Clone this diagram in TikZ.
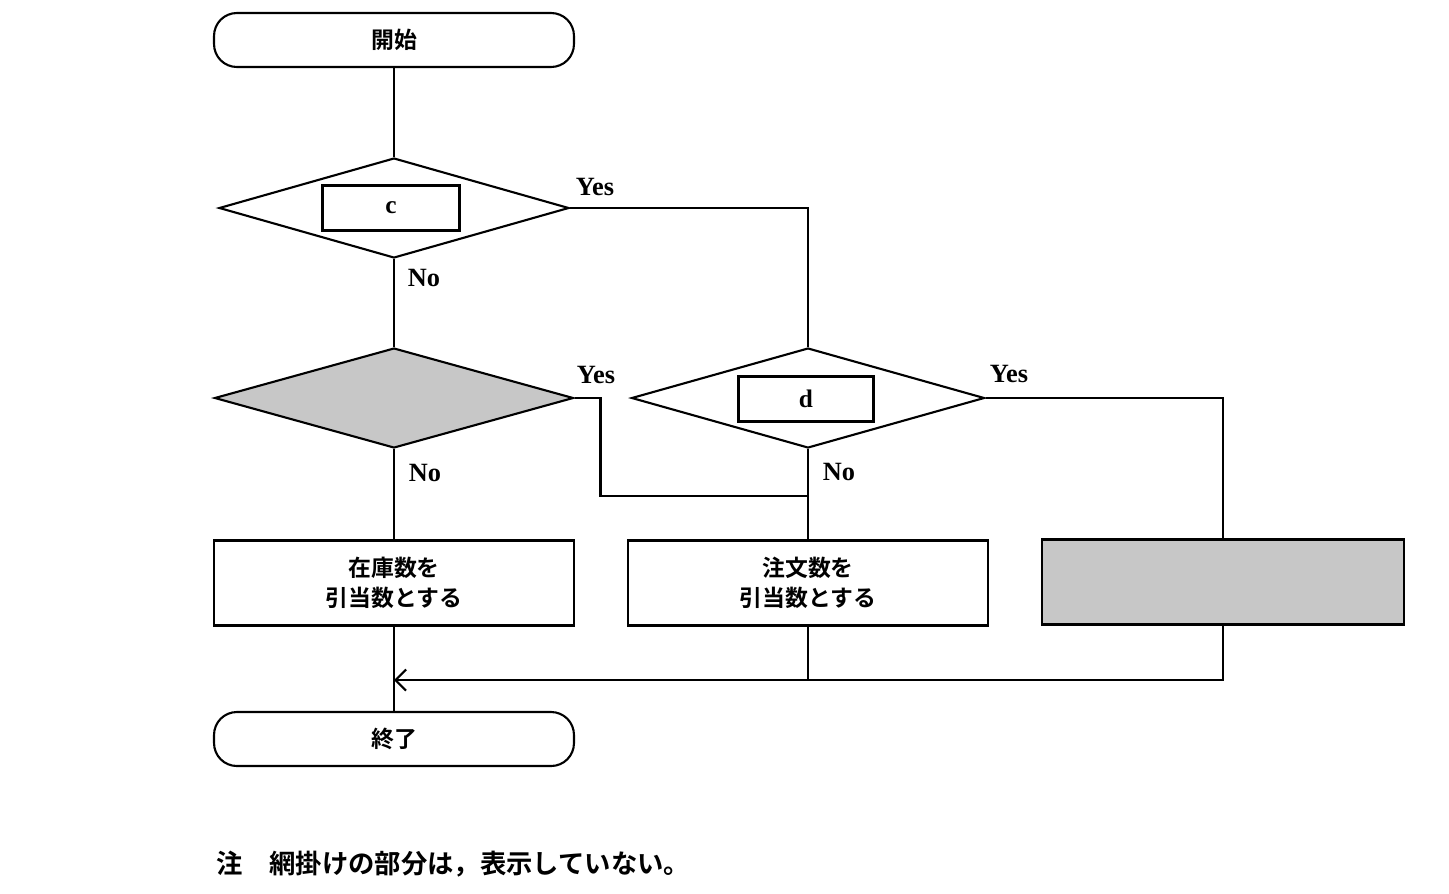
\documentclass[tikz,border=0pt]{standalone}
\usepackage{fontspec}
\setmainfont{Liberation Serif}
\newfontfamily\jfont{Noto Sans CJK JP}[BoldFont={* Bold}]
\usetikzlibrary{shapes.geometric}
\usetikzlibrary{positioning}
\usetikzlibrary{arrows.meta}
\begin{document}
\begin{tikzpicture}[x=0.02cm,y=-0.02cm,line width=1.2pt]
\fontsize{13}{17}\selectfont

% used shapes
\tikzstyle{term} = [rectangle, draw, rounded corners=13pt, minimum width=7.2cm, minimum height=1.08cm, font=\jfont\bfseries]
\tikzstyle{decide} = [diamond, draw, inner sep=0pt, minimum width=7cm, minimum height=2cm]
\tikzstyle{proc} = [rectangle, draw, minimum width=7.2cm, minimum height=1.7cm, align=center, font=\jfont\bfseries]
\tikzstyle{slot} = [rectangle, draw, line width=2.2pt, minimum width=2.74cm, minimum height=0.9cm, font=\bfseries\Large]
\tikzstyle{lbl} = [font=\bfseries\fontsize{15}{18}\selectfont]
\tikzstyle{shade} = [fill=black!22]

\useasboundingbox (0,0) rectangle (1449,893);

\node [term] (start) at (394,40) {開始};

\node [decide] (qc) at (394,208) {};
\node [slot, fill=white] (c) at (391,208) {c};

\node [decide, shade, minimum width=7.18cm] (qs) at (394,398) {};

\node [decide, minimum width=7.06cm] (qd) at (808,398) {};
\node [slot, fill=white, minimum width=2.7cm] (d) at (806,399) {d};

\node [proc] (stock) at (394,583) {在庫数を\\引当数とする};
\node [proc] (order) at (808,583) {注文数を\\引当数とする};
\node [proc, shade, minimum width=7.24cm] (hid) at (1223,582) {};

\node [term] (stop) at (394,739) {終了};

\node [lbl] at (595,187) {Yes};
\node [lbl] at (424,278) {No};
\node [lbl] at (596,375) {Yes};
\node [lbl] at (425,473) {No};
\node [lbl] at (1009,374) {Yes};
\node [lbl] at (839,472) {No};

\coordinate (j1) at (808,496);
\coordinate (j2) at (394,680);

\draw (start) -- (qc);
\draw (qc) -- (qs);
\draw (qc.east) -| (qd.north);
\draw (qs.east) -- ++(26,0) |- (j1);
\draw (qd) -- (order);
\draw (qd.east) -| (hid.north);
\draw (qs) -- (stock);
\draw (stock) -- (stop);
\draw (order.south) -- (order.south |- j2);
\draw [-{Straight Barb[length=6pt,width=12pt]}] (hid.south) |- (j2);

\node [anchor=west, font=\jfont\bfseries\fontsize{15}{18}\selectfont] (note) at (208,864) {注\quad 網掛けの部分は，表示していない。};

\end{tikzpicture}
\end{document}
